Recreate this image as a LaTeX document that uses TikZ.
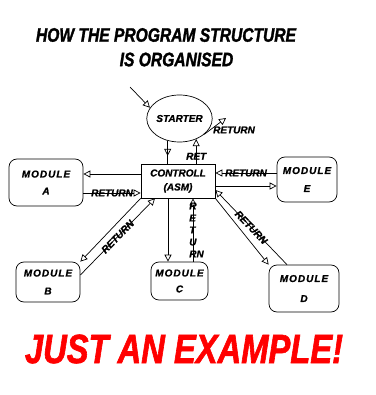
\documentclass[tikz,border=0pt]{standalone}
\usepackage{fontspec}
\usetikzlibrary{arrows.meta,shapes.geometric,decorations.markings}
\newfontfamily\comicfont[FakeStretch=0.8, FakeBold=1.5]{Liberation Sans}
\newfontfamily\boxfont[FakeBold=1]{Liberation Sans}
\newfontfamily\modfont[LetterSpace=10, FakeBold=1]{Liberation Sans}

\begin{document}
\begin{tikzpicture}[x=1pt, y=-1pt, font=\boxfont\bfseries\itshape\fontsize{10}{12}\selectfont, every node/.style={align=center}]
\tikzset{
  module/.style={draw, rounded corners=8pt, inner sep=0pt, line width=0.7pt, font=\modfont\bfseries\itshape\fontsize{10}{12}\selectfont},
  ctrlbox/.style={draw, minimum width=74pt, minimum height=34pt, inner sep=0pt, line width=0.7pt},
  arr/.style={-{Triangle[open, length=7pt, width=7pt]}, line width=0.7pt},
  midarr/.style={line width=0.7pt, postaction={decorate}, decoration={markings,
      mark=at position 0.66 with {\arrow{Triangle[open, length=7pt, width=7pt]}}}},
  lbl/.style={inner sep=0pt}
}
  \useasboundingbox (0,0) rectangle (375,395);

  \node[font=\comicfont\bfseries\itshape\fontsize{19.5}{24}\selectfont] (title1) at (166,35) {HOW THE PROGRAM STRUCTURE};
  \node[font=\comicfont\bfseries\itshape\fontsize{19.5}{24}\selectfont] (title2) at (176.5,59.5) {IS ORGANISED};

  \node[draw, ellipse, minimum width=64pt, minimum height=47pt, inner sep=0pt, line width=0.7pt] (starter) at (179.5,118.5) {STARTER};
  \node[ctrlbox] (ctrl) at (178,181) {CONTROLL\\[2pt](ASM)};

  \node[module, minimum width=74pt, minimum height=47pt] (modA) at (46,182.5) {MODULE\\[5pt]A};
  \node[module, minimum width=64pt, minimum height=40pt] (modB) at (48,282) {MODULE\\[6pt]B};
  \node[module, minimum width=57pt, minimum height=38pt] (modC) at (179.5,281) {MODULE\\[4pt]C};
  \node[module, minimum width=70pt, minimum height=47pt] (modD) at (304,288.5) {MODULE\\[8pt]D};
  \node[module, minimum width=60pt, minimum height=45pt] (modE) at (307,179.5) {MODULE\\[6pt]E};

  % starter
  \coordinate (entry) at (130,87);
  \coordinate (retend) at (226,118);
  \draw[arr] (entry) -- (starter.160);
  \draw[midarr] (starter.242) -- (starter.242 |- ctrl.north);
  \draw[arr] (starter.309 |- ctrl.north) -- node[pos=0.3, lbl]{RET} (starter.309);
  \draw[arr] (starter.327) -- (retend);
  \node[lbl] (retlbl) at (234,130) {RETURN};

  % module A and E
  \coordinate (cA1) at ([yshift=7pt]ctrl.west);
  \coordinate (cA2) at ([yshift=-12pt]ctrl.west);
  \draw[arr] (cA1) -- (cA1 -| modA.east);
  \draw[arr] (cA2 -| modA.east) -- node[lbl]{RETURN} (cA2);
  \coordinate (cE1) at ([yshift=8pt]ctrl.east);
  \coordinate (cE2) at ([yshift=-5pt]ctrl.east);
  \draw[arr] (cE1 -| modE.west) -- node[lbl]{RETURN} (cE1);
  \draw[arr] (cE2) -- (cE2 -| modE.west);

  % module C
  \coordinate (cC1) at ([xshift=-10pt]ctrl.south);
  \coordinate (cC2) at ([xshift=15pt]ctrl.south);
  \draw[arr] (cC1) -- (cC1 |- modC.north);
  \draw[arr] (cC2 |- modC.north) -- node[lbl, align=left, xshift=3.5pt]{R\\E\\T\\U\\RN} (cC2);

  % module B and D
  \draw[arr] (ctrl.south west) -- (modB.north east);
  \draw[arr] ([yshift=7pt]modB.east) -- node[lbl, sloped]{RETURN} ([xshift=-23pt]ctrl.south);
  \draw[arr] (ctrl.south east) -- (modD.north west);
  \draw[arr] ([xshift=-17pt]modD.north) -- node[lbl, sloped]{RETURN} ([yshift=-9pt]ctrl.east);

  \node[text=red, font=\comicfont\bfseries\itshape\fontsize{40.9}{48}\selectfont] (example) at (184,349) {JUST AN EXAMPLE!};
\end{tikzpicture}
\end{document}
